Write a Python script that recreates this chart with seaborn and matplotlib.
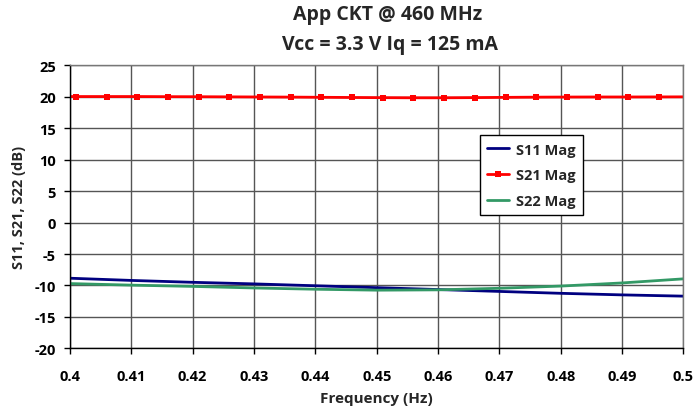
import matplotlib
matplotlib.use("Agg")
import matplotlib.pyplot as plt
import seaborn as sns
import numpy as np

# S11 / S22 read at 10 MHz-ish steps of the axis
freq = [0.40, 0.41, 0.42, 0.43, 0.44, 0.45, 0.46, 0.47, 0.48, 0.49, 0.50]
s11 = [-8.85, -9.2, -9.5, -9.75, -10.05, -10.35, -10.65, -10.95, -11.25, -11.5, -11.7]
s22 = [-9.7, -9.95, -10.15, -10.4, -10.6, -10.75, -10.7, -10.45, -10.1, -9.6, -8.95]

# S21 marker points (line runs edge to edge)
freq21 = [0.400, 0.401, 0.406, 0.411, 0.416, 0.421, 0.426, 0.431, 0.436, 0.441, 0.446,
          0.451, 0.456, 0.461, 0.466, 0.471, 0.476, 0.481, 0.486, 0.491, 0.496, 0.500]
s21 = [20.05, 20.05, 20.05, 20.05, 20.03, 20.02, 20.0, 19.98, 19.96, 19.93, 19.9,
       19.87, 19.85, 19.85, 19.88, 19.92, 19.95, 19.97, 19.98, 19.98, 19.99, 20.0]

xticks = [0.4, 0.41, 0.42, 0.43, 0.44, 0.45, 0.46, 0.47, 0.48, 0.49, 0.5]
xtick_labels = ["0.4", "0.41", "0.42", "0.43", "0.44", "0.45", "0.46", "0.47", "0.48", "0.49", "0.5"]
yticks = [-20, -15, -10, -5, 0, 5, 10, 15, 20, 25]

sns.set_style("white")
plt.rcParams['font.family'] = ['Open Sans', 'DejaVu Sans']
plt.rcParams['font.weight'] = 'bold'
plt.rcParams['axes.unicode_minus'] = False

fig = plt.figure(figsize=(6.95, 4.10), dpi=100)
ax = fig.add_axes([0.1007, 0.148, 0.8826, 0.690])

sns.lineplot(x=freq, y=s11, ax=ax, color='#000080', linewidth=2, label='S11 Mag')
sns.lineplot(x=freq21, y=s21, ax=ax, color='#ff0000', linewidth=2, marker='s',
             markersize=4.5, markeredgewidth=0, markevery=slice(1, -1), label='S21 Mag')
sns.lineplot(x=freq, y=s22, ax=ax, color='#339966', linewidth=2, label='S22 Mag')

ax.set_xlim(0.4, 0.5)
ax.set_ylim(-20, 25)
ax.set_xticks(xticks)
ax.set_xticklabels(xtick_labels)
ax.set_yticks(yticks)
ax.grid(True, color='#555555', linewidth=1)
ax.set_axisbelow(True)
for side in ['top', 'right']:
    ax.spines[side].set_color('#777777')
    ax.spines[side].set_linewidth(1)
for side in ['left', 'bottom']:
    ax.spines[side].set_color('black')
    ax.spines[side].set_linewidth(1)
ax.tick_params(axis='both', direction='out', length=4, width=1, colors='black',
               labelsize=10.5, left=True, bottom=True)
ax.tick_params(axis='x', pad=11)
ax.tick_params(axis='y', pad=6)
for lbl in ax.get_xticklabels() + ax.get_yticklabels():
    lbl.set_fontweight('bold')

ax.set_xlabel('Frequency (Hz)', fontsize=11, fontweight='bold', labelpad=6)
ax.set_ylabel('S11, S21, S22 (dB)', fontsize=10.5, fontweight='bold', labelpad=6)

fig.text(0.558, 0.963, 'App CKT @ 460 MHz', ha='center', va='center',
         fontsize=14, fontweight='bold')
fig.text(0.561, 0.890, 'Vcc = 3.3 V Iq = 125 mA', ha='center', va='center',
         fontsize=14, fontweight='bold')

leg = ax.legend(loc='upper left', bbox_to_anchor=(0.668, 0.753), frameon=True,
                fancybox=False, edgecolor='black', framealpha=1,
                prop={'weight': 'bold', 'size': 10.5}, handlelength=1.5,
                borderpad=0.5, labelspacing=0.8, handletextpad=0.5,
                borderaxespad=0)
leg.get_frame().set_linewidth(1)

fig.savefig('out.png', dpi=100, facecolor='white')
